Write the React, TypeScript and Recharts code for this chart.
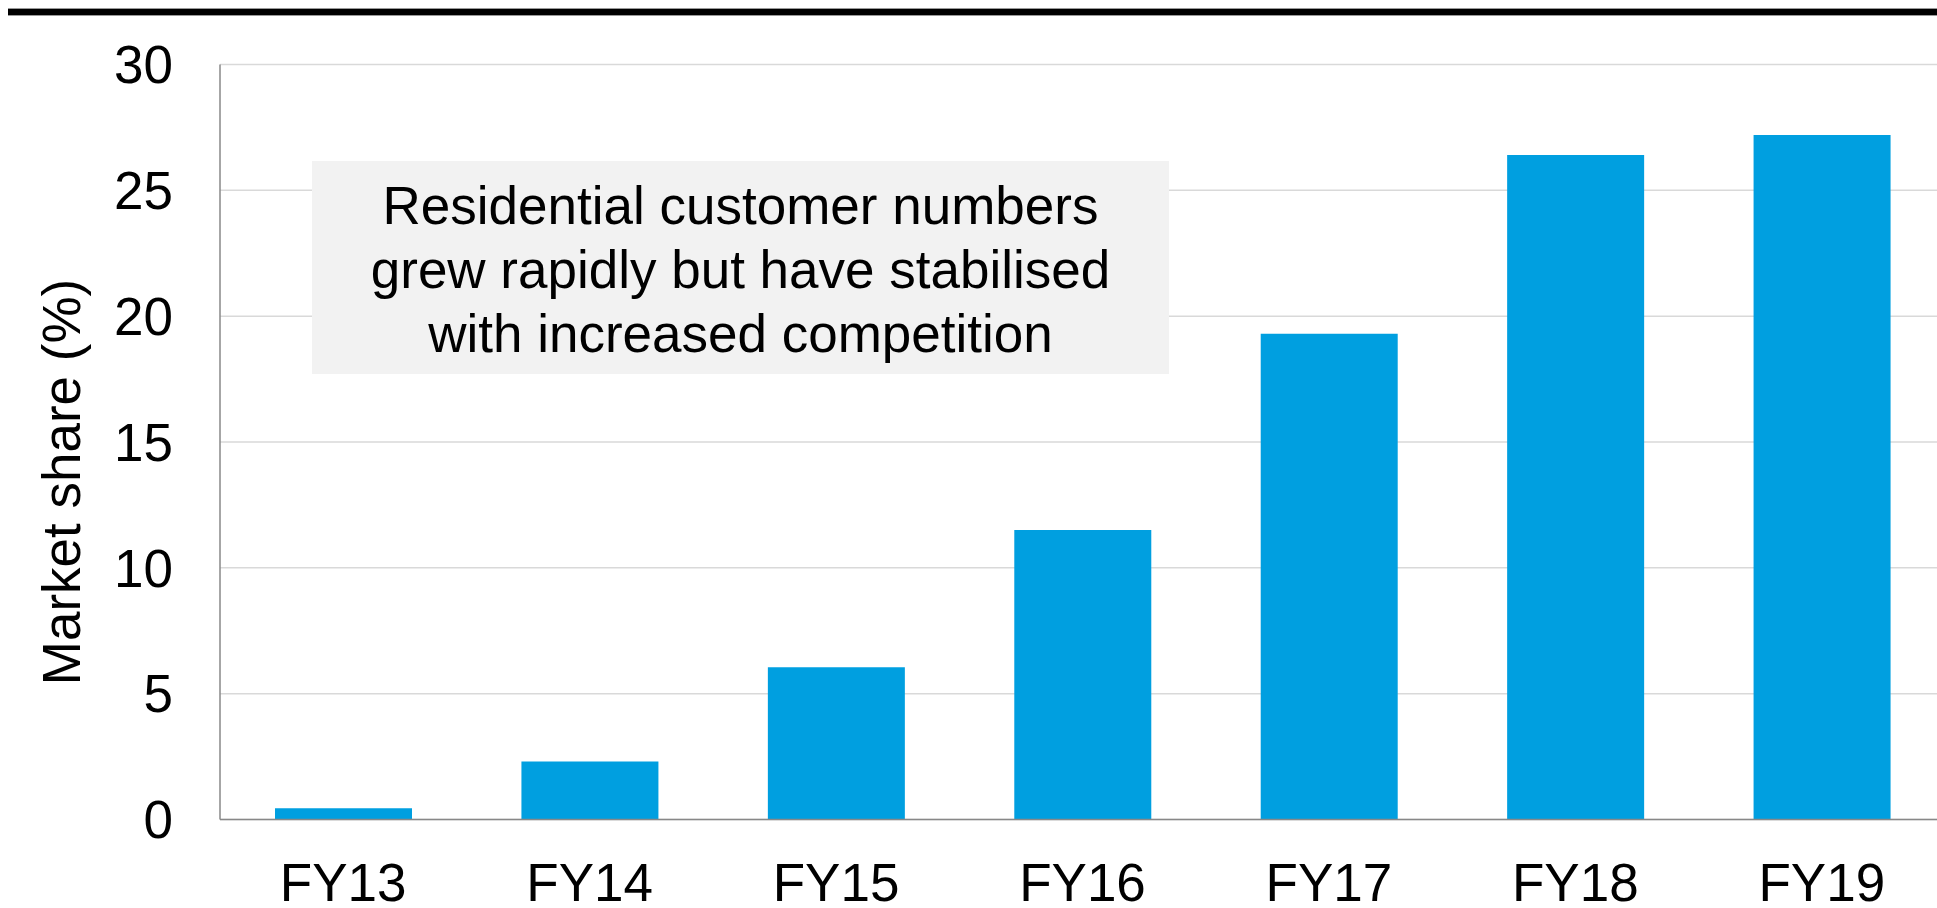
import { BarChart, Bar, XAxis, YAxis, CartesianGrid, Label } from 'recharts';

const years = ['FY13', 'FY14', 'FY15', 'FY16', 'FY17', 'FY18', 'FY19'];
const marketShare = [0.45, 2.3, 6.05, 11.5, 19.3, 26.4, 27.2];
const yTicks = [0, 5, 10, 15, 20, 25, 30];
const noteLines = [
  'Residential customer numbers',
  'grew rapidly but have stabilised',
  'with increased competition',
];

const data = years.map((year, i) => ({ year, share: marketShare[i] }));

const FONT = '"Liberation Sans", Arial, sans-serif';
const BLUE = '#009fe0';

const AxisTitle = ({ viewBox }: { viewBox?: { x: number; y: number; width: number; height: number } }) => {
  if (!viewBox) return null;
  const cx = viewBox.x + 72;
  const cy = viewBox.y + viewBox.height / 2 + 40;
  return (
    <text
      transform={`translate(${cx}, ${cy}) rotate(-90)`}
      textAnchor="middle"
      fontSize={53}
      fontFamily={FONT}
      fill="#000"
    >
      Market share (%)
    </text>
  );
};

export default function App() {
  return (
    // whole viewport, clipped so the chart that runs past the right edge adds no scrollbars
    <div style={{ position: 'fixed', left: 0, top: 0, width: 1937, height: 908, overflow: 'hidden', fontFamily: FONT, background: '#fff' }}>
      <div style={{ position: 'absolute', left: 8, top: 8, width: 1940, height: 900 }}>
        <div
          style={{
            position: 'absolute',
            left: 0,
            top: 0,
            width: 1929,
            height: 8,
            boxSizing: 'border-box',
            background: '#000',
            borderTop: '1px solid #999',
            borderBottom: '1px solid #999',
          }}
        />
        <BarChart
          width={1940}
          height={900}
          data={data}
          margin={{ top: 56.5, right: 3, left: 0, bottom: 0 }}
        >
          <CartesianGrid vertical={false} stroke="#d9d9d9" strokeWidth={1.5} />
          <XAxis
            dataKey="year"
            height={88.5}
            tickLine={false}
            tickSize={6}
            tickMargin={38}
            axisLine={{ stroke: '#888', strokeWidth: 1.5 }}
            tick={{ fill: '#000', fontSize: 53, fontFamily: FONT }}
            interval={0}
          />
          <YAxis
            width={212}
            domain={[0, 30]}
            ticks={yTicks}
            tickLine={false}
            tickSize={6}
            tickMargin={41}
            axisLine={{ stroke: '#888', strokeWidth: 1.5 }}
            tick={{ fill: '#000', fontSize: 53, fontFamily: FONT }}
            interval={0}
          >
            <Label content={<AxisTitle />} />
          </YAxis>
          <Bar dataKey="share" fill={BLUE} barSize={137} isAnimationActive={false} />
        </BarChart>
        <div
          style={{
            position: 'absolute',
            left: 304,
            top: 153,
            width: 857,
            height: 213,
            boxSizing: 'border-box',
            paddingTop: 13,
            background: '#f2f2f2',
            textAlign: 'center',
            fontSize: 53,
            lineHeight: '64px',
            color: '#000',
          }}
        >
          {noteLines.map((line) => (
            <div key={line}>{line}</div>
          ))}
        </div>
      </div>
    </div>
  );
}
